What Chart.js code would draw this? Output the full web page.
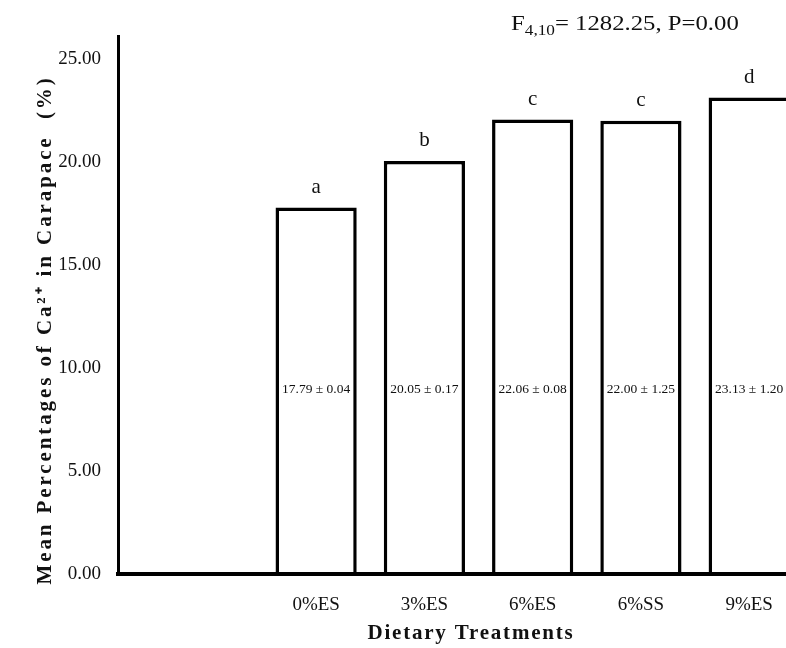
<!DOCTYPE html>
<html>
<head>
<meta charset="utf-8">
<script src="https://cdn.jsdelivr.net/npm/chart.js@4/dist/chart.umd.min.js"></script>
<style>
  html, body { margin: 0; padding: 0; background: #fff; overflow: hidden; }
  #wrap { width: 786px; height: 648px; position: relative; }
</style>
</head>
<body>
<div id="wrap"><canvas id="chart"></canvas></div>
<script>
// Data
const categories   = ['0%ES', '3%ES', '6%ES', '6%SS', '9%ES'];
const positions    = [1, 2, 3, 4, 5];
const means        = [17.79, 20.05, 22.06, 22.00, 23.13];
const errors       = [0.04, 0.17, 0.08, 1.25, 1.20];
const groupLetters = ['a', 'b', 'c', 'c', 'd'];
const yTicks       = [0, 5, 10, 15, 20, 25];

const SERIF = '"Liberation Serif", "Times New Roman", serif';
const valueLabelLevel = 8.95; // height (in axis units) of the "mean ± se" text

// Draws the letters, value texts, axis titles and the F statistic
const annotations = {
    id: 'annotations',
    afterDraw(chart) {
        const ctx = chart.ctx;
        const meta = chart.getDatasetMeta(0);
        const y = chart.scales.y;
        ctx.save();
        ctx.fillStyle = '#111';
        ctx.textAlign = 'center';

        meta.data.forEach(function(bar, i) {
            ctx.font = '21px ' + SERIF;
            ctx.textBaseline = 'alphabetic';
            ctx.fillText(groupLetters[i], bar.x, bar.y - 15);

            ctx.font = '13.5px ' + SERIF;
            ctx.textBaseline = 'middle';
            ctx.fillText(means[i].toFixed(2) + ' \u00b1 ' + errors[i].toFixed(2), bar.x, y.getPixelForValue(valueLabelLevel));
        });

        // F statistic (slightly wide type, as in the original)
        ctx.save();
        ctx.translate(511, 0);
        ctx.scale(1.15, 1);
        ctx.textAlign = 'left';
        ctx.textBaseline = 'alphabetic';
        let x = 0;
        ctx.font = '21.5px ' + SERIF;
        ctx.fillText('F', x, 30);
        x += ctx.measureText('F').width;
        ctx.font = '15px ' + SERIF;
        ctx.fillText('4,10', x, 35);
        x += ctx.measureText('4,10').width;
        ctx.font = '21.5px ' + SERIF;
        ctx.fillText('= 1282.25, P=0.00', x, 30);
        ctx.restore();

        // x title
        ctx.textAlign = 'center';
        ctx.textBaseline = 'alphabetic';
        ctx.font = 'bold 21px ' + SERIF;
        ctx.letterSpacing = '1.8px';
        ctx.fillText('Dietary Treatments', 471, 639);

        // y title
        ctx.translate(51, 330);
        ctx.rotate(-Math.PI / 2);
        ctx.letterSpacing = '2.9px';
        ctx.fillText('Mean Percentages of Ca\u00b2\u207a in Carapace  (%)', 0, 0);
        ctx.restore();
    }
};

new Chart(document.getElementById('chart'), {
    type: 'bar',
    data: {
        datasets: [{
            data: positions.map(function(p, i) { return { x: p, y: means[i] }; }),
            backgroundColor: '#ffffff',
            borderColor: '#000000',
            borderWidth: 3.5,
            borderSkipped: 'start',
            categoryPercentage: 0.75,
            barPercentage: 1.0
        }]
    },
    options: {
        responsive: true,
        maintainAspectRatio: false,
        animation: false,
        layout: { padding: { top: 36, left: 0, right: 0, bottom: 0 } },
        plugins: {
            legend: { display: false },
            tooltip: { enabled: false }
        },
        scales: {
            x: {
                type: 'linear',
                offset: false,
                min: -0.83,
                max: 5.34,
                grid: { display: false, drawTicks: false },
                border: { display: true, color: '#000', width: 4, z: 1 },
                afterBuildTicks: function(scale) {
                    scale.ticks = positions.map(function(p) { return { value: p }; });
                },
                afterFit: function(scale) {
                    scale.height = 74;
                    scale.paddingLeft = 0;
                    scale.paddingRight = 0;
                },
                ticks: {
                    padding: 20,
                    color: '#111',
                    font: { family: SERIF, size: 19 },
                    maxRotation: 0,
                    autoSkip: false,
                    callback: function(value) {
                        const i = positions.indexOf(value);
                        return i >= 0 ? categories[i] : '';
                    }
                }
            },
            y: {
                min: 0,
                max: 26.12,
                grid: { display: false, drawTicks: false },
                border: { display: true, color: '#000', width: 3, z: 1 },
                afterBuildTicks: function(scale) {
                    scale.ticks = yTicks.map(function(v) { return { value: v }; });
                },
                afterFit: function(scale) {
                    scale.width = 118;
                    scale.paddingTop = 0;
                    scale.paddingBottom = 0;
                },
                ticks: {
                    padding: 17,
                    color: '#111',
                    font: { family: SERIF, size: 19 },
                    callback: function(value) { return Number(value).toFixed(2); }
                }
            }
        }
    },
    plugins: [annotations]
});
</script>
</body>
</html>
